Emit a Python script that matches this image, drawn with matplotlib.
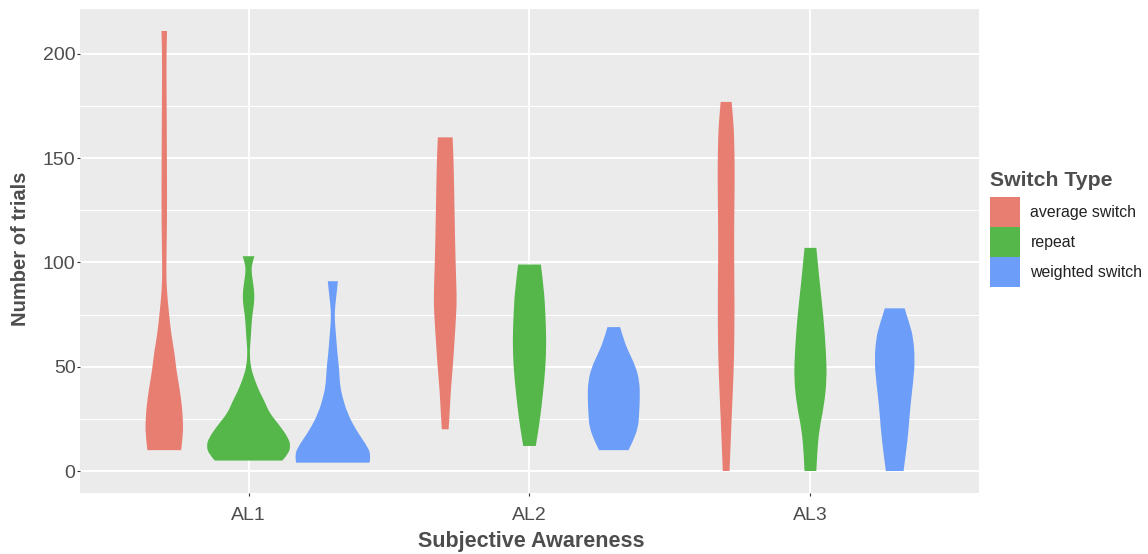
import numpy as np
import matplotlib.pyplot as plt
from matplotlib.path import Path
from matplotlib.patches import PathPatch, Patch

plt.rcParams['font.family'] = ['Liberation Sans', 'DejaVu Sans']

# 分组与类别
levels = ['AL1', 'AL2', 'AL3']
switch_types = ['average switch', 'repeat', 'weighted switch']
colors = ['#E87D72', '#55B74A', '#6C9DF8']

# 每个小提琴的轮廓：y 值与相对宽度（1 = 最宽）
al1_average_y = [10, 18, 25, 31, 40, 48, 57, 65, 74, 82, 91, 100, 120, 140, 160, 180, 200, 211]
al1_average_w = [0.40, 0.45, 0.44, 0.42, 0.36, 0.29, 0.24, 0.17, 0.12, 0.08, 0.05, 0.05, 0.065, 0.065, 0.06, 0.055, 0.05, 0.065]
al1_repeat_y = [5, 8, 12, 16, 22, 28, 33, 38, 44, 50, 57, 63, 70, 75, 80, 85, 90, 96, 100, 103]
al1_repeat_w = [0.80, 0.94, 1.0, 0.94, 0.73, 0.49, 0.39, 0.26, 0.14, 0.05, 0.025, 0.05, 0.07, 0.09, 0.13, 0.14, 0.11, 0.065, 0.09, 0.14]
al1_weighted_y = [4, 8, 13, 20, 28, 36, 42, 49, 56, 65, 74, 80, 86, 91]
al1_weighted_w = [0.87, 0.91, 0.78, 0.54, 0.34, 0.22, 0.165, 0.15, 0.11, 0.075, 0.04, 0.06, 0.095, 0.12]

al2_average_y = [20, 26, 38, 50, 62, 75, 83, 100, 125, 150, 160]
al2_average_w = [0.08, 0.10, 0.13, 0.18, 0.22, 0.26, 0.275, 0.245, 0.22, 0.20, 0.175]
al2_repeat_y = [12, 17, 25, 37, 50, 62, 75, 88, 99]
al2_repeat_w = [0.15, 0.19, 0.25, 0.32, 0.38, 0.40, 0.38, 0.34, 0.27]
al2_weighted_y = [10, 14, 21, 27, 35, 43, 50, 56, 62, 69]
al2_weighted_w = [0.35, 0.45, 0.58, 0.60, 0.62, 0.61, 0.52, 0.38, 0.25, 0.15]

al3_average_y = [0, 10, 23, 39, 55, 79, 100, 119, 143, 160, 168, 177]
al3_average_w = [0.08, 0.10, 0.125, 0.16, 0.19, 0.20, 0.19, 0.19, 0.205, 0.19, 0.17, 0.13]
al3_repeat_y = [0, 9, 20, 31, 44, 57, 74, 91, 107]
al3_repeat_w = [0.14, 0.16, 0.21, 0.32, 0.39, 0.37, 0.31, 0.215, 0.14]
al3_weighted_y = [0, 9, 20, 31, 43, 53, 64, 70, 78]
al3_weighted_w = [0.21, 0.27, 0.33, 0.37, 0.44, 0.48, 0.44, 0.36, 0.235]

profiles = {
    ('AL1', 'average switch'): (al1_average_y, al1_average_w),
    ('AL1', 'repeat'): (al1_repeat_y, al1_repeat_w),
    ('AL1', 'weighted switch'): (al1_weighted_y, al1_weighted_w),
    ('AL2', 'average switch'): (al2_average_y, al2_average_w),
    ('AL2', 'repeat'): (al2_repeat_y, al2_repeat_w),
    ('AL2', 'weighted switch'): (al2_weighted_y, al2_weighted_w),
    ('AL3', 'average switch'): (al3_average_y, al3_average_w),
    ('AL3', 'repeat'): (al3_repeat_y, al3_repeat_w),
    ('AL3', 'weighted switch'): (al3_weighted_y, al3_weighted_w),
}

y_ticks = [0, 50, 100, 150, 200]
y_minor = [25, 75, 125, 175]

dodge = 0.3       # 组内偏移
max_half = 0.15   # 最宽小提琴的半宽


def smooth_side(pts):
    # 用二次贝塞尔把一侧轮廓连成光滑曲线
    verts = [pts[0]]
    codes = []
    for i in range(1, len(pts) - 1):
        nxt = pts[i + 1] if i == len(pts) - 2 else (
            (pts[i][0] + pts[i + 1][0]) / 2, (pts[i][1] + pts[i + 1][1]) / 2)
        verts += [pts[i], nxt]
        codes += [Path.CURVE3, Path.CURVE3]
    if len(pts) == 2:
        verts.append(pts[1])
        codes.append(Path.LINETO)
    return verts, codes


def violin_path(xc, ys, ws):
    right = [(xc + w * max_half, y) for y, w in zip(ys, ws)]
    left = [(xc - w * max_half, y) for y, w in zip(ys, ws)][::-1]
    rv, rc = smooth_side(right)
    lv, lc = smooth_side(left)
    verts = rv + lv + [rv[0]]
    codes = [Path.MOVETO] + rc + [Path.LINETO] + lc + [Path.CLOSEPOLY]
    return Path(verts, codes)


fig = plt.figure(figsize=(11.48, 5.54), dpi=100)
ax = fig.add_axes([80 / 1148, 1 - 493 / 554, (979 - 80) / 1148, (493 - 9) / 554])
ax.set_facecolor('#EBEBEB')
for s in ax.spines.values():
    s.set_visible(False)

ax.set_xlim(0.4, 3.6)
ax.set_ylim(-10.55, 221.55)

# 网格线
for v in y_minor:
    ax.axhline(v, color='white', lw=0.75, zorder=0.5)
for v in y_ticks:
    ax.axhline(v, color='white', lw=1.4, zorder=0.6)
for i in range(len(levels)):
    ax.axvline(i + 1, color='white', lw=1.4, zorder=0.6)

# 小提琴
for i, lv in enumerate(levels):
    for j, st in enumerate(switch_types):
        ys, ws = profiles[(lv, st)]
        xc = i + 1 + (j - 1) * dodge
        ax.add_patch(PathPatch(violin_path(xc, ys, ws), facecolor=colors[j],
                               edgecolor='none', zorder=2))

ax.set_xticks(range(1, len(levels) + 1))
ax.set_xticklabels(levels)
ax.set_yticks(y_ticks)
ax.tick_params(axis='both', length=2.2, width=0.8, color='#333333',
               labelcolor='#4D4D4D', labelsize=14)
ax.tick_params(axis='y', pad=1)
ax.tick_params(axis='x', pad=8)

fig.text(20.5 / 1148, 1 - 249 / 554, 'Number of trials', rotation=90,
         ha='center', va='center', fontsize=14.5, fontweight='bold', color='#4D4D4D')
fig.text(531 / 1148, 1 - 541 / 554, 'Subjective Awareness',
         ha='center', va='center', fontsize=15.5, fontweight='bold', color='#4D4D4D')

# 图例
handles = [Patch(facecolor=c, edgecolor='none') for c in colors]
leg = fig.legend(handles, switch_types, loc='upper left',
                 bbox_to_anchor=(990 / 1148, 1 - 171 / 554),
                 frameon=False, fontsize=11.4, borderpad=0, borderaxespad=0,
                 handlelength=1.9, handleheight=2.55, handletextpad=0.65,
                 labelspacing=0, title='Switch Type', alignment='left',
                 title_fontproperties={'size': 15.3, 'weight': 'bold'})
leg._legend_box.sep = 5  # 标题与色块之间的间距
leg.get_title().set_color('#4D4D4D')
for t in leg.get_texts():
    t.set_color('#222222')

fig.savefig('out.png', dpi=100)
